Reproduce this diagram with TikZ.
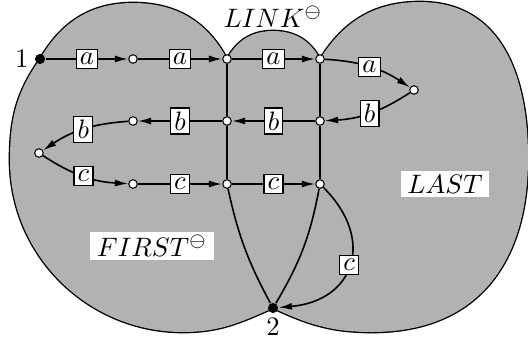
\documentclass[tikz,border=0pt]{standalone}
\usetikzlibrary{arrows.meta}
\definecolor{regiongray}{gray}{0.7}
\tikzset{
  state/.style={circle,draw,fill=white,line width=0.4pt,inner sep=0pt,minimum size=3.2pt},
  term/.style={circle,fill=black,inner sep=0pt,minimum size=3.8pt},
  lab/.style={draw,fill=white,line width=0.4pt,inner sep=1.4pt},
  edge/.style={line width=0.6pt,-{Latex[length=5pt,width=2.6pt]}},
  plain/.style={line width=0.6pt},
  regionname/.style={fill=white,inner xsep=2.5pt,inner ysep=1.3pt},
  outline/.style={line width=1pt,line join=round},
}
\begin{document}
\begin{tikzpicture}[x=0.375pt,y=0.375pt]
\useasboundingbox (0,0) rectangle (528,338);

% outlines first (double width), then the fills cover the inner half
\draw[outline]
  (40,279) to[out=60,in=180] (133,335) to[out=0,in=118] (227,279)
  to[out=-62,in=80] (273,30) to[out=204,in=0] (183,6)
  to[out=180,in=-90] (10,178) to[out=90,in=235] (40,279) -- cycle;
\draw[outline]
  (320,279) to[out=58,in=180] (420,336) to[out=0,in=90,looseness=1.1] (528,180)
  to[out=-90,in=0,looseness=1.15] (372,6) to[out=180,in=-25] (273,30)
  to[out=120,in=-100] (320,279) -- cycle;
\draw[outline]
  (227,279) to[out=62,in=180] (273,307) to[out=0,in=118] (320,279)
  -- (320,154) -- (273,30) -- (227,154) -- cycle;

\fill[regiongray]
  (40,279) to[out=60,in=180] (133,335) to[out=0,in=118] (227,279)
  to[out=-62,in=80] (273,30) to[out=204,in=0] (183,6)
  to[out=180,in=-90] (10,178) to[out=90,in=235] (40,279) -- cycle;
\fill[regiongray]
  (320,279) to[out=58,in=180] (420,336) to[out=0,in=90,looseness=1.1] (528,180)
  to[out=-90,in=0,looseness=1.15] (372,6) to[out=180,in=-25] (273,30)
  to[out=120,in=-100] (320,279) -- cycle;
\fill[regiongray]
  (227,279) to[out=62,in=180] (273,307) to[out=0,in=118] (320,279)
  -- (320,154) -- (273,30) -- (227,154) -- cycle;

% region names
\node[anchor=base] (linkname) at (273,311) {$LINK^{\ominus}$};
\node[regionname] (firstname) at (152,92) {$FIRST^{\ominus}$};
\node[regionname] (lastname) at (445,154) {$LAST$};

% states
\node[term]  (n1) at (40,279) {};
\node[state] (p1) at (133,279) {};
\node[state] (j1) at (227,279) {};
\node[state] (j2) at (320,279) {};
\node[state] (r)  at (414,248) {};
\node[state] (j3) at (320,217) {};
\node[state] (j4) at (227,217) {};
\node[state] (p2) at (133,217) {};
\node[state] (l)  at (39,185) {};
\node[state] (p3) at (133,154) {};
\node[state] (j5) at (227,154) {};
\node[state] (j6) at (320,154) {};
\node[term]  (n2) at (273,30) {};

\node[anchor=east,inner sep=2pt] (one) at (n1.west) {1};
\node[anchor=north,inner sep=1.5pt] (two) at (n2.south) {2};

% plain connections
\draw[plain] (j1) -- (j4);
\draw[plain] (j4) -- (j5);
\draw[plain] (j2) -- (j3);
\draw[plain] (j3) -- (j6);
\draw[plain] (j5) to[bend right=8] (n2);
\draw[plain] (j6) to[bend left=10] (n2);

% labelled transitions
\draw[edge] (n1) -- node[lab]{$a$} (p1);
\draw[edge] (p1) -- node[lab]{$a$} (j1);
\draw[edge] (j1) -- node[lab]{$a$} (j2);
\draw[edge] (j2) to[bend left=15] node[lab]{$a$} (r);
\draw[edge] (r) to[bend left=15] node[lab]{$b$} (j3);
\draw[edge] (j3) -- node[lab]{$b$} (j4);
\draw[edge] (j4) -- node[lab]{$b$} (p2);
\draw[edge] (p2) to[bend right=15] node[lab]{$b$} (l);
\draw[edge] (l) to[bend right=15] node[lab]{$c$} (p3);
\draw[edge] (p3) -- node[lab]{$c$} (j5);
\draw[edge] (j5) -- node[lab]{$c$} (j6);
\draw[edge] (j6) to[out=-45,in=5,looseness=1.5] node[lab]{$c$} (n2);
\end{tikzpicture}
\end{document}
